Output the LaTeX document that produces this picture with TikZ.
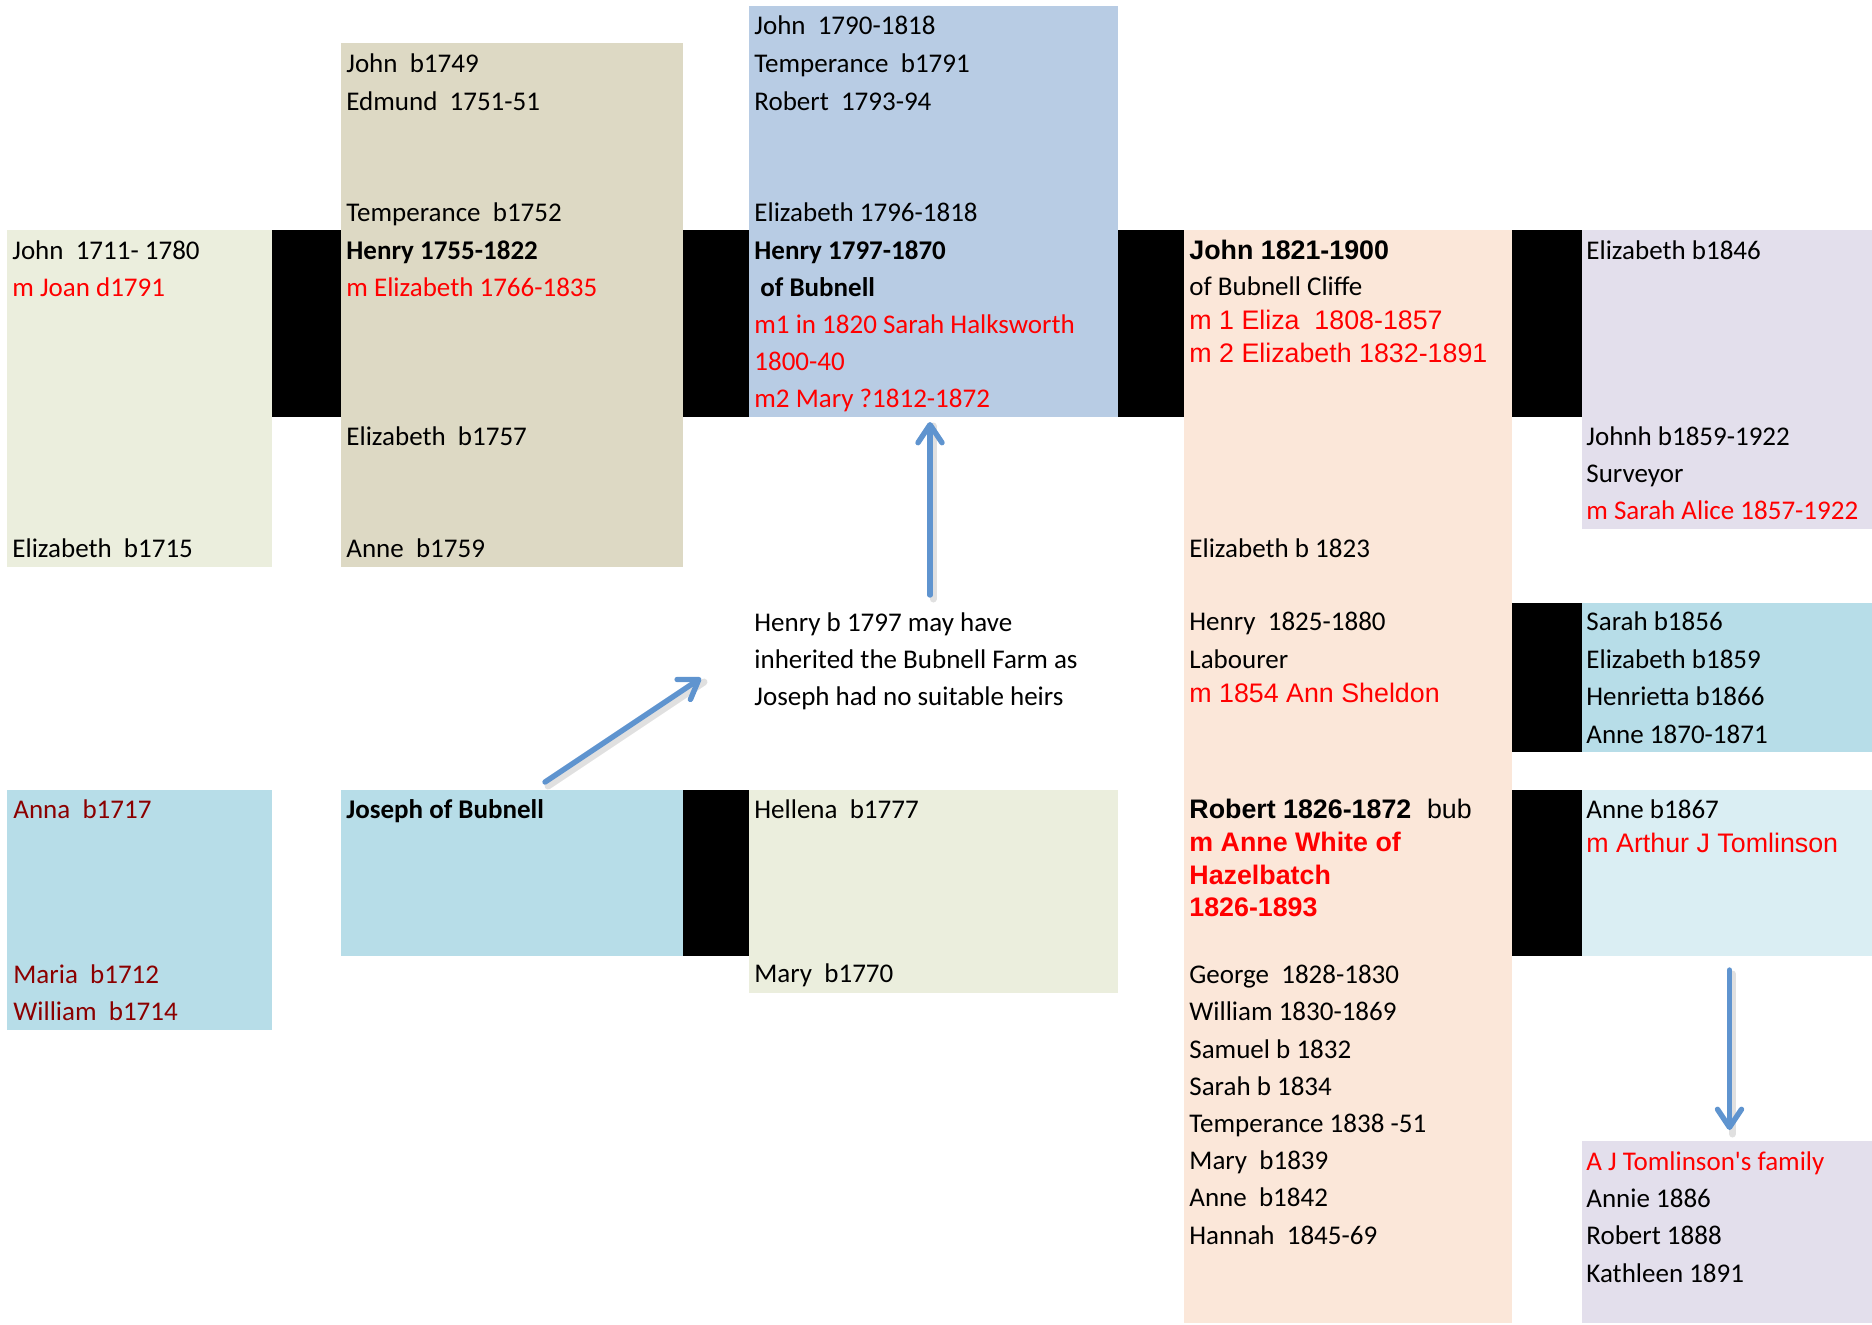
\documentclass[tikz,border=0pt]{standalone}
\usepackage{fontspec}
\setmainfont{Carlito}
\newfontfamily\arialf{Liberation Sans}
\usetikzlibrary{arrows.meta}
\definecolor{cGreen}{HTML}{EBEEDD}
\definecolor{cTan}{HTML}{DDD9C4}
\definecolor{cBlue}{HTML}{B8CCE4}
\definecolor{cPeach}{HTML}{FBE7D9}
\definecolor{cLav}{HTML}{E3DFEC}
\definecolor{cAqua}{HTML}{B7DDE8}
\definecolor{cAquaL}{HTML}{DAEEF3}
\definecolor{cRed}{HTML}{FF0000}
\definecolor{cDRed}{HTML}{8B0000}
\definecolor{cArrow}{HTML}{5F94CF}
\tikzset{
  tx/.style={anchor=base west, inner sep=0pt, font=\fontsize{13.5}{16}\selectfont},
  txb/.style={tx, font=\fontsize{13.5}{16}\selectfont\bfseries},
  ar/.style={tx, font=\fontsize{13.4}{16}\selectfont\arialf},
  arb/.style={tx, font=\fontsize{13.4}{16}\selectfont\arialf\bfseries},
  rd/.style={text=cRed},
  drd/.style={text=cDRed},
  conn/.style={draw=cArrow, line width=2.7pt, line cap=round,
    -{Straight Barb[length=9pt, width=12pt, line cap=round, line join=round]}},
  shad/.style={draw=black!12, line width=3.5pt, line cap=round},
}
\begin{document}
\begin{tikzpicture}[x=0.5pt, y=-0.5pt]
\useasboundingbox (0,0) rectangle (1872,1324);
% ---- boxes ----
\fill[cGreen] (7,230) rectangle (272,567);
\fill[black] (272,230) rectangle (341,417);
\fill[cTan] (341,43) rectangle (683,567);
\fill[black] (683,230) rectangle (749,417);
\fill[cBlue] (749,6) rectangle (1118,417);
\fill[black] (1118,230) rectangle (1184,417);
\fill[cPeach] (1184,230) rectangle (1512,1323);
\fill[black] (1512,230) rectangle (1582,417);
\fill[cLav] (1582,230) rectangle (1872,529);
\fill[black] (1512,603) rectangle (1582,752);
\fill[cAqua] (1582,603) rectangle (1872,752);
\fill[cAqua] (7,790) rectangle (272,1030);
\fill[cAqua] (341,790) rectangle (683,956);
\fill[black] (683,790) rectangle (749,956);
\fill[cGreen] (749,790) rectangle (1118,993);
\fill[black] (1512,790) rectangle (1582,956);
\fill[cAquaL] (1582,790) rectangle (1872,956);
\fill[cLav] (1582,1141) rectangle (1872,1323);
% ---- column 1 ----
\node[tx] (n1) at (12,259.5) {John~~1711-~1780};
\node[tx,rd] (n2) at (12,296.5) {m Joan d1791};
\node[tx] (n3) at (12,557.5) {Elizabeth~~b1715};
% ---- column 2 ----
\node[tx] (n4) at (346,72.5) {John~~b1749};
\node[tx] (n5) at (346,110) {Edmund~~1751-51};
\node[tx] (n6) at (346,221.5) {Temperance~~b1752};
\node[txb] (n7) at (346,259) {Henry 1755-1822};
\node[tx,rd] (n8) at (346,296.5) {m Elizabeth 1766-1835};
\node[tx] (n9) at (346,445.5) {Elizabeth~~b1757};
\node[tx] (n10) at (346,557.5) {Anne~~b1759};
% ---- column 3 ----
\node[tx] (n11) at (754,34.5) {John~~1790-1818};
\node[tx] (n12) at (754,72.5) {Temperance~~b1791};
\node[tx] (n13) at (754,110) {Robert~~1793-94};
\node[tx] (n14) at (754,221.5) {Elizabeth 1796-1818};
\node[txb] (n15) at (754,259) {Henry 1797-1870};
\node[txb] (n16) at (760,296.5) {of Bubnell};
\node[tx,rd] (n17) at (754,333.5) {m1 in 1820 Sarah Halksworth};
\node[tx,rd] (n18) at (754,370.5) {1800-40};
\node[tx,rd] (n19) at (754,407.5) {m2 Mary ?1812-1872};
% ---- column 4 ----
\node[arb] (n20) at (1189,259) {John 1821-1900};
\node[tx] (n21) at (1189,295.5) {of Bubnell Cliffe};
\node[ar,rd] (n22) at (1189,329.5) {m 1 Eliza~~1808-1857};
\node[ar,rd] (n23) at (1189,362) {m 2 Elizabeth 1832-1891};
\node[tx] (n24) at (1189,557.5) {Elizabeth b 1823};
\node[tx] (n25) at (1189,630.5) {Henry~~1825-1880};
\node[tx] (n26) at (1189,668.5) {Labourer};
\node[ar,rd] (n27) at (1189,702.5) {m 1854 Ann Sheldon};
\node[arb] (n28) at (1189,818) {Robert 1826-1872};
\node[ar] (n29) at (n28.base east) [anchor=base west] {~~bub};
\node[arb,rd] (n30) at (1189,851.5) {m Anne White of};
\node[arb,rd] (n31) at (1189,884.5) {Hazelbatch};
\node[arb,rd] (n32) at (1189,916) {1826-1893};
\node[tx] (n33) at (1189,983.5) {George~~1828-1830};
\node[tx] (n34) at (1189,1020.5) {William 1830-1869};
\node[tx] (n35) at (1189,1058) {Samuel b 1832};
\node[tx] (n36) at (1189,1095) {Sarah b 1834};
\node[tx] (n37) at (1189,1132.5) {Temperance 1838 -51};
\node[tx] (n38) at (1189,1169.5) {Mary~~b1839};
\node[tx] (n39) at (1189,1206.5) {Anne~~b1842};
\node[tx] (n40) at (1189,1244) {Hannah~~1845-69};
% ---- column 5 ----
\node[tx] (n41) at (1586,259) {Elizabeth b1846};
\node[tx] (n42) at (1586,445.5) {Johnh b1859-1922};
\node[tx] (n43) at (1586,482.5) {Surveyor};
\node[tx,rd] (n44) at (1586,519.5) {m Sarah Alice 1857-1922};
\node[tx] (n45) at (1586,630.5) {Sarah b1856};
\node[tx] (n46) at (1586,668.5) {Elizabeth b1859};
\node[tx] (n47) at (1586,705.5) {Henrietta b1866};
\node[tx] (n48) at (1586,743) {Anne 1870-1871};
\node[tx] (n49) at (1586,818) {Anne b1867};
\node[ar,rd] (n50) at (1586,852) {m Arthur J Tomlinson};
\node[tx,rd] (n51) at (1586,1170.5) {A J Tomlinson\textquotesingle s family};
\node[tx] (n52) at (1586,1207.5) {Annie 1886};
\node[tx] (n53) at (1586,1244.5) {Robert 1888};
\node[tx] (n54) at (1586,1282) {Kathleen 1891};
% ---- note ----
\node[tx] (n55) at (754,631) {Henry b 1797 may have};
\node[tx] (n56) at (754,668.5) {inherited the Bubnell Farm as};
\node[tx] (n57) at (754,705.5) {Joseph had no suitable heirs};
% ---- lower left ----
\node[tx,drd] (n58) at (13,818) {Anna~~b1717};
\node[tx,drd] (n59) at (13,983) {Maria~~b1712};
\node[tx,drd] (n60) at (13,1020.5) {William~~b1714};
\node[txb] (n61) at (346,818) {Joseph of Bubnell};
\node[tx] (n62) at (754,818) {Hellena~~b1777};
\node[tx] (n63) at (754,982.5) {Mary~~b1770};
% ---- arrows ----
\coordinate (noteTop) at (930,595);
\coordinate (henryBot) at (930,422);
\coordinate (josephTop) at (545,782);
\coordinate (noteLeft) at (701,678);
\coordinate (anneBot) at (1729.5,970);
\coordinate (tomTop) at (1729.5,1130);
\draw[shad] ([shift={(3,4)}]noteTop) -- ([shift={(3,4)}]henryBot);
\draw[shad] ([shift={(3,4)}]josephTop) -- ([shift={(3,4)}]noteLeft);
\draw[shad] ([shift={(3,4)}]anneBot) -- ([shift={(3,4)}]tomTop);
\draw[conn] (noteTop) -- (henryBot);
\draw[conn] (josephTop) -- (noteLeft);
\draw[conn] (anneBot) -- (tomTop);
\end{tikzpicture}
\end{document}
